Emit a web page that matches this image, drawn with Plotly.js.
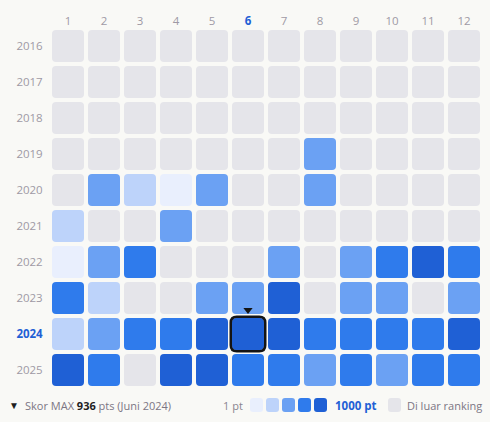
<!DOCTYPE html>
<html>
<head>
<meta charset="utf-8">
<script src="https://cdn.plot.ly/plotly-3.0.1.min.js"></script>
<style>
  html, body { margin: 0; padding: 0; background: #F9F9F6; }
  #chart { width: 490px; height: 422px; }
</style>
</head>
<body>
<div id="chart"></div>
<script>
// ---- data ----
const months = [1, 2, 3, 4, 5, 6, 7, 8, 9, 10, 11, 12];
const years = [2016, 2017, 2018, 2019, 2020, 2021, 2022, 2023, 2024, 2025];
// level per month: 0 = di luar ranking, 1..5 = score band (1 pt .. 1000 pt)
const level2016 = [0,0,0,0,0,0,0,0,0,0,0,0];
const level2017 = [0,0,0,0,0,0,0,0,0,0,0,0];
const level2018 = [0,0,0,0,0,0,0,0,0,0,0,0];
const level2019 = [0,0,0,0,0,0,0,3,0,0,0,0];
const level2020 = [0,3,2,1,3,0,0,3,0,0,0,0];
const level2021 = [2,0,0,3,0,0,0,0,0,0,0,0];
const level2022 = [1,3,4,0,0,0,3,0,3,4,5,4];
const level2023 = [4,2,0,0,3,3,5,0,3,3,0,3];
const level2024 = [2,3,4,4,5,5,5,4,4,4,4,5];
const level2025 = [5,4,0,5,5,4,4,3,4,3,4,4];
const levelsByYear = [level2016, level2017, level2018, level2019, level2020,
                      level2021, level2022, level2023, level2024, level2025];
const maxScore = 936;
const maxMonth = 6;
const maxYear = 2024;
const maxLabel = "Juni 2024";

// ---- style ----
const levelColors = ["#E5E5EA", "#E9EFFD", "#BDD3FA", "#6BA1F3", "#2F7BEC", "#1F60D5"];
const bg = "#F9F9F6";
const tickGrey = "#9F99A5";
const accent = "#1F60D5";
const FONT = "'Open Sans', 'Noto Sans', sans-serif";

// plot geometry (pixels)
const W = 490, H = 422;
const mL = 50, mR = 8, mT = 28, mB = 34;
const plotW = W - mL - mR, plotH = H - mT - mB;
const unitPx = 36;            // one month / one year step in pixels
const half = 16 / unitPx;     // half cell size in data units
const rad = 4 / unitPx;       // corner radius in data units

function roundRect(x0, y0, x1, y1, rx, ry) {
  return `M${x0 + rx},${y0} L${x1 - rx},${y0} Q${x1},${y0} ${x1},${y0 + ry} ` +
         `L${x1},${y1 - ry} Q${x1},${y1} ${x1 - rx},${y1} L${x0 + rx},${y1} ` +
         `Q${x0},${y1} ${x0},${y1 - ry} L${x0},${y0 + ry} Q${x0},${y0} ${x0 + rx},${y0} Z`;
}

const shapes = [];
const hx = [], hy = [], htext = [];
years.forEach((yr, i) => {
  months.forEach((m, j) => {
    const lv = levelsByYear[i][j];
    shapes.push({
      type: "path", xref: "x", yref: "y", layer: "below",
      path: roundRect(m - half, yr - half, m + half, yr + half, rad, rad),
      fillcolor: levelColors[lv], line: { width: 0 }
    });
    hx.push(m); hy.push(yr);
    htext.push(lv === 0 ? "Di luar ranking" : "Level " + lv);
  });
});
// highlight of max cell
const hb = 17.25 / unitPx, hr = 6 / unitPx;
shapes.push({
  type: "path", xref: "x", yref: "y", layer: "above",
  path: roundRect(maxMonth - hb, maxYear - hb, maxMonth + hb, maxYear + hb, hr, hr),
  fillcolor: "rgba(0,0,0,0)", line: { color: "#141414", width: 2.5 }
});

// legend helpers in pixel -> paper
const px = v => (v - mL) / plotW;
const py = v => (H - mB - v) / plotH;
function legendSquare(x0, x1, color) {
  const y0 = 398, y1 = 412, r = 3;
  const rx = r / plotW, ry = r / plotH;
  const X0 = px(x0), X1 = px(x1), Y0 = py(y1), Y1 = py(y0);
  shapes.push({
    type: "path", xref: "paper", yref: "paper",
    path: roundRect(X0, Y0, X1, Y1, rx, ry),
    fillcolor: color, line: { width: 0 }
  });
}
[1, 2, 3, 4, 5].forEach((lv, k) => legendSquare(250 + 16 * k, 263 + 16 * k, levelColors[lv]));
legendSquare(388, 401, levelColors[0]);

const legendY = py(405);
const LF = 11;
const annotations = [
  { x: px(14), y: legendY, xref: "paper", yref: "paper", text: "▼", showarrow: false,
    xanchor: "center", yanchor: "middle", font: { size: 10, color: "#1E1E1E", family: FONT } },
  { x: px(23), y: legendY, xref: "paper", yref: "paper", showarrow: false,
    xanchor: "left", yanchor: "middle",
    text: `Skor MAX <b><span style="color:#1E1E1E">${maxScore}</span></b> pts (${maxLabel})`,
    font: { size: LF, color: "#7C7684", family: FONT } },
  { x: px(245), y: legendY, xref: "paper", yref: "paper", showarrow: false,
    xanchor: "right", yanchor: "middle", text: "1 pt",
    font: { size: LF, color: "#8A8590", family: FONT } },
  { x: px(333), y: legendY, xref: "paper", yref: "paper", showarrow: false,
    xanchor: "left", yanchor: "middle", text: "<b>1000 pt</b>",
    font: { size: LF + 0.5, color: accent, family: FONT } },
  { x: px(405), y: legendY, xref: "paper", yref: "paper", showarrow: false,
    xanchor: "left", yanchor: "middle", text: "Di luar ranking",
    font: { size: LF, color: "#7C7684", family: FONT } }
];

const monthText = months.map(m => m === maxMonth
  ? `<b><span style="color:${accent}">${m}</span></b>` : String(m));
const yearText = years.map(y => y === maxYear
  ? `<b><span style="color:${accent}">${y}</span></b>` : String(y));

const traces = [
  { type: "scatter", mode: "markers", x: hx, y: hy, text: htext,
    hoverinfo: "text", marker: { size: 30, color: "rgba(0,0,0,0)" }, showlegend: false },
  { type: "scatter", mode: "markers", x: [maxMonth], y: [maxYear - 0.67],
    hoverinfo: "skip", showlegend: false,
    marker: { symbol: "triangle-down", size: 8, color: "#141414", line: { width: 0 } } }
];

const layout = {
  width: W, height: H,
  margin: { l: mL, r: mR, t: mT, b: mB, pad: 0 },
  paper_bgcolor: bg, plot_bgcolor: bg,
  font: { family: FONT, size: 11.5, color: tickGrey },
  showlegend: false,
  xaxis: {
    range: [0.5, 12.5], side: "top", tickvals: months, ticktext: monthText,
    showgrid: false, zeroline: false, showline: false, ticks: "",
    fixedrange: true,
    tickfont: { size: 11.5, color: tickGrey, family: FONT }
  },
  yaxis: {
    range: [2025.5, 2015.5], tickvals: years, ticktext: yearText,
    showgrid: false, zeroline: false, showline: false, ticks: "outside",
    ticklen: 4, tickcolor: "rgba(0,0,0,0)", fixedrange: true,
    tickfont: { size: 11.5, color: tickGrey, family: FONT }
  },
  shapes: shapes,
  annotations: annotations
};

Plotly.newPlot("chart", traces, layout, { displayModeBar: false, staticPlot: false });
</script>
</body>
</html>
